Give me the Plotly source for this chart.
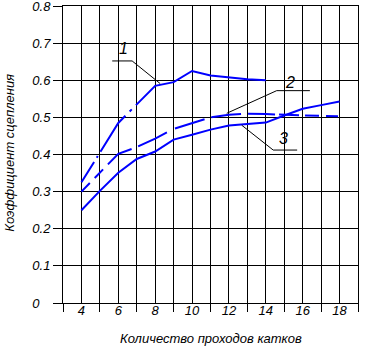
import plotly.graph_objects as go

# ---- data ----
passes_1 = [4, 5, 6, 7, 8, 9, 10, 11, 12, 13, 14]
curve_1 = [0.325, 0.405, 0.485, 0.535, 0.585, 0.595, 0.625, 0.613, 0.607, 0.603, 0.600]

passes = [4, 5, 6, 7, 8, 9, 10, 11, 12, 13, 14, 15, 16, 17, 18]
curve_2 = [0.300, 0.352, 0.402, 0.420, 0.443, 0.469, 0.485, 0.500, 0.507, 0.510, 0.509, 0.506, 0.505, 0.504, 0.503]
curve_3 = [0.250, 0.302, 0.351, 0.388, 0.408, 0.440, 0.453, 0.467, 0.478, 0.482, 0.486, 0.505, 0.523, 0.533, 0.543]

x_tick_vals = [4, 6, 8, 10, 12, 14, 16, 18]
x_minor_vals = [3, 5, 7, 9, 11, 13, 15, 17, 19]
y_tick_vals = [0, 0.1, 0.2, 0.3, 0.4, 0.5, 0.6, 0.7, 0.8]
y_tick_text = ["0\u00a0\u00a0\u00a0", "0.1", "0.2", "0.3", "0.4", "0.5", "0.6", "0.7", "0.8"]

x_title = "Количество проходов катков"
y_title = "Коэффициент сцепления"
curve_labels = ["1", "2", "3"]

BLUE = "rgb(0,0,255)"
FONT = dict(family="Liberation Sans, Arial, sans-serif", size=13, color="black", style="italic")

fig = go.Figure()
fig.add_trace(go.Scatter(x=passes_1, y=curve_1, mode="lines",
                         line=dict(color=BLUE, width=2,
                                   dash="24px,5px,2px,5px,44px,6px,3px,6px,3000px")))
fig.add_trace(go.Scatter(x=passes, y=curve_2, mode="lines",
                         line=dict(color=BLUE, width=2,
                                   dash="12px,7px,12px,7px,29px,7px,32px,9px,31px,7px,30px,7px,27px,4px,20px,6px,14px,7px,12px,7px")))
fig.add_trace(go.Scatter(x=passes, y=curve_3, mode="lines",
                         line=dict(color=BLUE, width=2)))

# leader lines for curve labels
leaders = [
    [(5.67, 0.652), (6.75, 0.652), (8.27, 0.591)],
    [(16.39, 0.572), (14.59, 0.572), (11.88, 0.511)],
    [(15.7, 0.412), (14.4, 0.412), (12.69, 0.479)],
]
for pts in leaders:
    for (xa, ya), (xb, yb) in zip(pts[:-1], pts[1:]):
        fig.add_shape(type="line", x0=xa, y0=ya, x1=xb, y1=yb, xref="x", yref="y",
                      line=dict(color="black", width=1))

label_pos = [(6.3, 0.685), (15.3, 0.593), (14.95, 0.443)]
for txt, (lx, ly) in zip(curve_labels, label_pos):
    fig.add_annotation(x=lx, y=ly, xref="x", yref="y", text=txt, showarrow=False,
                       font=dict(FONT, size=16))

fig.add_annotation(x=0.5, y=-0.119, xref="paper", yref="paper", text=x_title,
                   showarrow=False, xanchor="center", yanchor="middle", font=dict(FONT, size=13))
fig.add_annotation(x=-0.182, y=0.507, xref="paper", yref="paper", text=y_title,
                   showarrow=False, textangle=-90, xanchor="center", yanchor="middle",
                   font=dict(FONT, size=13))

fig.update_layout(
    width=367, height=358,
    margin=dict(l=63, r=9, t=6, b=55, autoexpand=False),
    paper_bgcolor="white", plot_bgcolor="white",
    showlegend=False,
    font=FONT,
    xaxis=dict(range=[3, 19], tickmode="array", tickvals=x_tick_vals,
               ticks="", showgrid=True, gridcolor="black", gridwidth=1,
               showline=True, linecolor="black", linewidth=1, mirror=True,
               zeroline=False, tickfont=FONT, automargin=False, ticklabelstandoff=-5,
               ticklabeloverflow="allow",
               minor=dict(tickvals=x_minor_vals, ticks="outside", ticklen=8,
                          tickcolor="black", tickwidth=1,
                          showgrid=True, gridcolor="black", gridwidth=1)),
    yaxis=dict(range=[0, 0.8], tickmode="array", tickvals=y_tick_vals, ticktext=y_tick_text,
               ticks="outside", ticklen=9, tickcolor="black", tickwidth=1,
               showgrid=True, gridcolor="black", gridwidth=1,
               showline=True, linecolor="black", linewidth=1, mirror=True,
               zeroline=False, tickfont=FONT, automargin=False,
               ticklabeloverflow="allow"),
)

fig.write_html("out.html", config={"displayModeBar": False},
               post_script="document.body.style.margin='0';document.body.style.overflow='hidden';")
